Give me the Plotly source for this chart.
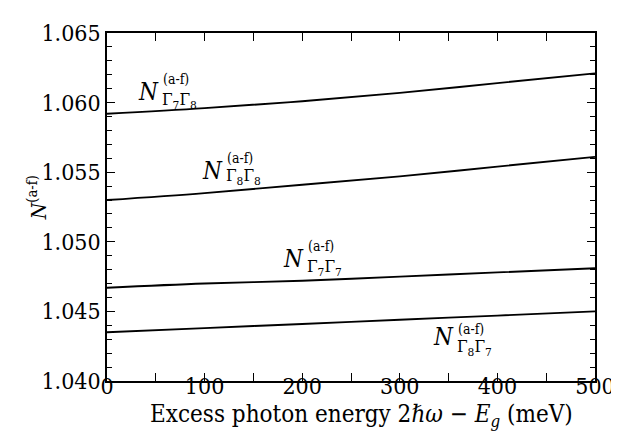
import plotly.graph_objects as go

energy = [0, 100, 200, 300, 400, 500]
n_g7g8 = [1.0592, 1.0596, 1.0601, 1.0607, 1.0614, 1.0621]
n_g8g8 = [1.0530, 1.0535, 1.0541, 1.0547, 1.0554, 1.0561]
n_g7g7 = [1.0467, 1.0470, 1.0472, 1.0475, 1.0478, 1.0481]
n_g8g7 = [1.0435, 1.0438, 1.0441, 1.0444, 1.0447, 1.0450]

series = [("Γ<sub>7</sub>Γ<sub>8</sub>", n_g7g8),
          ("Γ<sub>8</sub>Γ<sub>8</sub>", n_g8g8),
          ("Γ<sub>7</sub>Γ<sub>7</sub>", n_g7g7),
          ("Γ<sub>8</sub>Γ<sub>7</sub>", n_g8g7)]

W, H = 619, 431
L, R, T, B = 99, 18, 15, 58
FONT = "DejaVu Serif Condensed, DejaVu Serif"

fig = go.Figure()
for name, vals in series:
    fig.add_trace(go.Scatter(x=energy, y=vals, mode="lines", line=dict(color="black", width=1.9, shape="spline"),
                             showlegend=False))

def px(xp):
    return (xp - L) / (W - L - R)

def py(yp):
    return 1 - (yp - T) / (H - T - B)

# label anchors (pixel): N right edge, N center y, sup center y, sub center y
labels = [(155, 76, 62, 84), (220, 157, 144, 163), (304, 247, 234, 256), (458, 328, 319, 339)]
for (name, _), (xr, ny, sy, by) in zip(series, labels):
    fig.add_annotation(x=px(xr), y=py(ny), xref="paper", yref="paper", text="<i>N</i>", showarrow=False,
                       xanchor="right", yanchor="middle", font=dict(family=FONT, size=24, color="black"))
    fig.add_annotation(x=px(xr), y=py(sy), xref="paper", yref="paper", text="(a-f)", showarrow=False,
                       xanchor="left", yanchor="middle", font=dict(family=FONT, size=14, color="black"))
    fig.add_annotation(x=px(xr - 1), y=py(by), xref="paper", yref="paper", text=name, showarrow=False,
                       xanchor="left", yanchor="middle", font=dict(family=FONT, size=17, color="black"))

fig.add_annotation(x=px(361), y=py(409), xref="paper", yref="paper",
                   text="Excess photon energy 2<i>ℏω</i> − <i>E<sub>g</sub></i> (meV)", showarrow=False,
                   xanchor="center", yanchor="middle", font=dict(family=FONT, size=24, color="black"))
fig.add_annotation(x=px(27), y=py(185), xref="paper", yref="paper",
                   text="<i>N</i><sup>(a-f)</sup>", showarrow=False, textangle=-90,
                   xanchor="center", yanchor="middle", font=dict(family=FONT, size=21, color="black"))

axis_common = dict(showgrid=False, zeroline=False, showline=True, linecolor="black", linewidth=1.5,
                   mirror="allticks", ticks="inside", ticklen=8, tickwidth=1.3, tickcolor="black",
                   tickfont=dict(family=FONT, size=23, color="black"))
fig.update_xaxes(range=[0, 500], dtick=100, tick0=0, ticklabelstandoff=-16, ticklabeloverflow="allow",
                 minor=dict(dtick=50, ticks="inside", ticklen=8, tickwidth=1.3, tickcolor="black"),
                 **axis_common)
fig.update_yaxes(range=[1.040, 1.065], dtick=0.005, tick0=1.040, tickformat=".3f",
                 minor=dict(dtick=0.001, ticks="inside", ticklen=5, tickwidth=1.3, tickcolor="black"),
                 ticklabelstandoff=0, ticklabeloverflow="allow", **axis_common)

fig.update_layout(width=W, height=H, margin=dict(l=L, r=R, t=T, b=B), plot_bgcolor="white",
                  paper_bgcolor="white")
fig.write_html("out.html")
